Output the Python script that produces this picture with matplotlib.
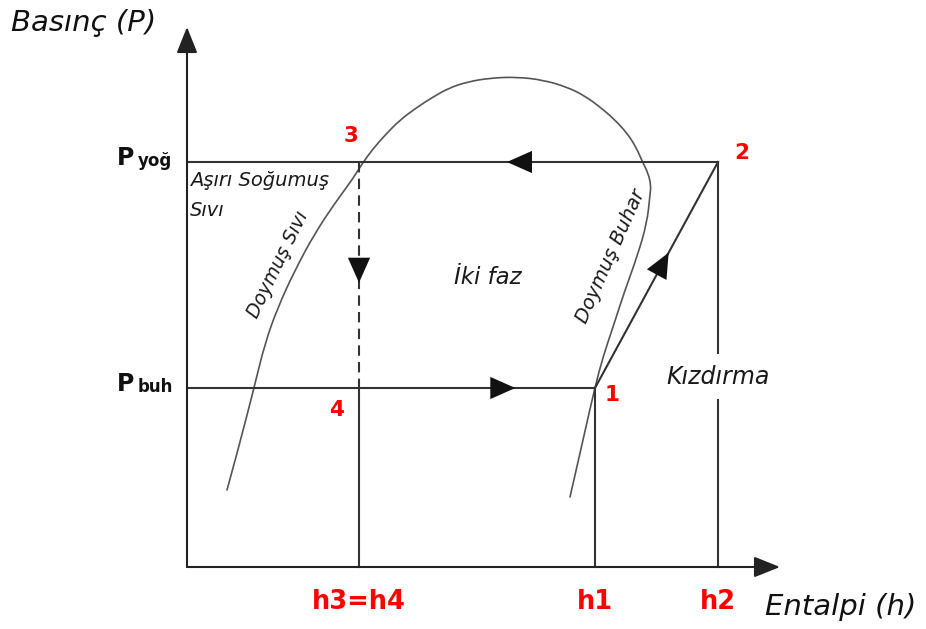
import matplotlib
matplotlib.use("Agg")
import matplotlib.pyplot as plt
from matplotlib.path import Path
from matplotlib.patches import PathPatch

# ---------------- data (diagram units: h to the right, P upward) ----------------
h_states = {"h3=h4": 172, "h1": 408, "h2": 531}
P_levels = {"yoğ": 405, "buh": 179}
H3, H1, H2 = h_states["h3=h4"], h_states["h1"], h_states["h2"]
P_COND, P_EVAP = P_levels["yoğ"], P_levels["buh"]

# saturation dome
dome_h = [40, 51, 67, 78, 91, 108, 128, 148, 165, 175, 185, 199, 213, 229, 246, 262,
          280, 303, 330, 356, 380, 398, 413, 427, 440, 449, 456, 461, 464, 463, 460,
          450, 438, 426, 416, 408, 396, 383]
dome_P = [77, 117, 179, 224, 260, 297, 334, 364, 387, 403, 417, 433, 447, 459, 470, 479,
          485, 489, 490, 487, 480, 471, 460, 448, 434, 420, 404, 394, 382, 372, 344,
          310, 277, 240, 210, 180, 127, 70]

state_labels = ["1", "2", "3", "4"]
tick_labels = ["h3=h4", "h1", "h2"]

# ---------------- figure ----------------
W, H = 926, 629
fig = plt.figure(figsize=(W / 100, H / 100), dpi=100)
ax = fig.add_axes([0, 0, 1, 1])
X0, Y0 = 187, 567  # pixel position of origin
ax.set_xlim(-X0, W - X0)
ax.set_ylim(-(H - Y0), Y0)
ax.axis("off")

LC = "#333333"
LW = 1.5

H_AX_END, P_AX_END = 593, 540

# axes with arrows
for tip in [(0, P_AX_END), (H_AX_END, 0)]:
    ax.annotate("", xy=tip, xytext=(0, 0),
                arrowprops=dict(arrowstyle="-|>,head_length=0.8,head_width=0.32",
                                mutation_scale=20, color="#222222", lw=LW,
                                shrinkA=0, shrinkB=0))

# dome: smooth path through the read points (quadratic segments, points as controls)
pts = list(zip(dome_h, dome_P))
verts = [pts[0]]
codes = [Path.MOVETO]
for i in range(1, len(pts) - 1):
    mid = ((pts[i][0] + pts[i + 1][0]) / 2, (pts[i][1] + pts[i + 1][1]) / 2)
    if i == len(pts) - 2:
        mid = pts[-1]
    verts += [pts[i], mid]
    codes += [Path.CURVE3, Path.CURVE3]
ax.add_patch(PathPatch(Path(verts, codes), facecolor="none", edgecolor="#555555",
                       lw=1.2, capstyle="round"))

# cycle lines
ax.plot([0, H2], [P_COND, P_COND], color=LC, lw=LW)
ax.plot([0, H1], [P_EVAP, P_EVAP], color=LC, lw=LW)
ax.plot([H3, H3], [P_COND, P_EVAP], color=LC, lw=LW, dashes=(5, 3))
ax.plot([H3, H3], [P_EVAP, 0], color=LC, lw=LW)
ax.plot([H1, H1], [P_EVAP, 0], color=LC, lw=LW)
ax.plot([H1, H2], [P_EVAP, P_COND], color=LC, lw=LW)
gap_top, gap_bot = 214, 167
ax.plot([H2, H2], [P_COND, gap_top], color=LC, lw=LW)
ax.plot([H2, H2], [gap_bot, 0], color=LC, lw=LW)


def mid_arrow(p0, p1, frac, length=20):
    x = p0[0] + frac * (p1[0] - p0[0])
    y = p0[1] + frac * (p1[1] - p0[1])
    dx, dy = p1[0] - p0[0], p1[1] - p0[1]
    n = (dx ** 2 + dy ** 2) ** 0.5
    ux, uy = dx / n, dy / n
    tail = (x - ux * length / 2, y - uy * length / 2)
    tip = (x + ux * length / 2, y + uy * length / 2)
    ax.annotate("", xy=tip, xytext=tail,
                arrowprops=dict(arrowstyle="-|>,head_length=0.9,head_width=0.4",
                                mutation_scale=20, color="#111111", lw=0.01,
                                shrinkA=0, shrinkB=0))


mid_arrow((H2, P_COND), (H3, P_COND), 0.56)
mid_arrow((H3, P_EVAP), (H1, P_EVAP), 0.62)
mid_arrow((H3, P_COND), (H3, P_EVAP), 0.49)
mid_arrow((H1, P_EVAP), (H2, P_COND), 0.56)

# axis titles
ax.text(-176, 544, "Basınç (P)", fontsize=21, style="italic", ha="left", va="center",
        color="#111111")
ax.text(578, -40, "Entalpi (h)", fontsize=21, style="italic", ha="left", va="center",
        color="#111111")

# pressure labels
for key, P in P_levels.items():
    ax.text(-70, P + 4, "P", fontsize=17, fontweight="bold", ha="left",
            va="center", color="#111111")
    ax.text(-49, P + 1, key, fontsize=12, fontweight="bold", ha="left",
            va="center", color="#111111")

# enthalpy labels (red)
for lab in tick_labels:
    ax.text(h_states[lab], -35, lab, fontsize=18.5, fontweight="bold", color="red",
            ha="center", va="center")

# state numbers
RED = "red"
ax.text(H1 + 17, P_EVAP - 7, state_labels[0], fontsize=15.5, fontweight="bold",
        color=RED, ha="center", va="center")
ax.text(H2 + 24, P_COND + 9, state_labels[1], fontsize=15.5, fontweight="bold",
        color=RED, ha="center", va="center")
ax.text(H3 - 8, P_COND + 26, state_labels[2], fontsize=15.5, fontweight="bold",
        color=RED, ha="center", va="center")
ax.text(H3 - 23, P_EVAP - 22, state_labels[3], fontsize=15.5, fontweight="bold",
        color=RED, ha="center", va="center")

# region texts
TC = "#1a1a1a"
ax.text(3, 386, "Aşırı Soğumuş", fontsize=14, style="italic", ha="left", va="center",
        color=TC)
ax.text(3, 356, "Sıvı", fontsize=14, style="italic", ha="left", va="center", color=TC)
ax.text(91, 303, "Doymuş Sıvı", fontsize=13.5, style="italic", rotation=64,
        ha="center", va="center", rotation_mode="anchor", color=TC)
ax.text(424, 311, "Doymuş Buhar", fontsize=14, style="italic", rotation=66,
        ha="center", va="center", rotation_mode="anchor", color=TC)
ax.text(301, 289, "İki faz", fontsize=16.5, style="italic", ha="center", va="center",
        color=TC)
ax.text(531, 190, "Kızdırma", fontsize=17, style="italic", ha="center", va="center",
        color=TC)

fig.savefig("out.png", dpi=100)
